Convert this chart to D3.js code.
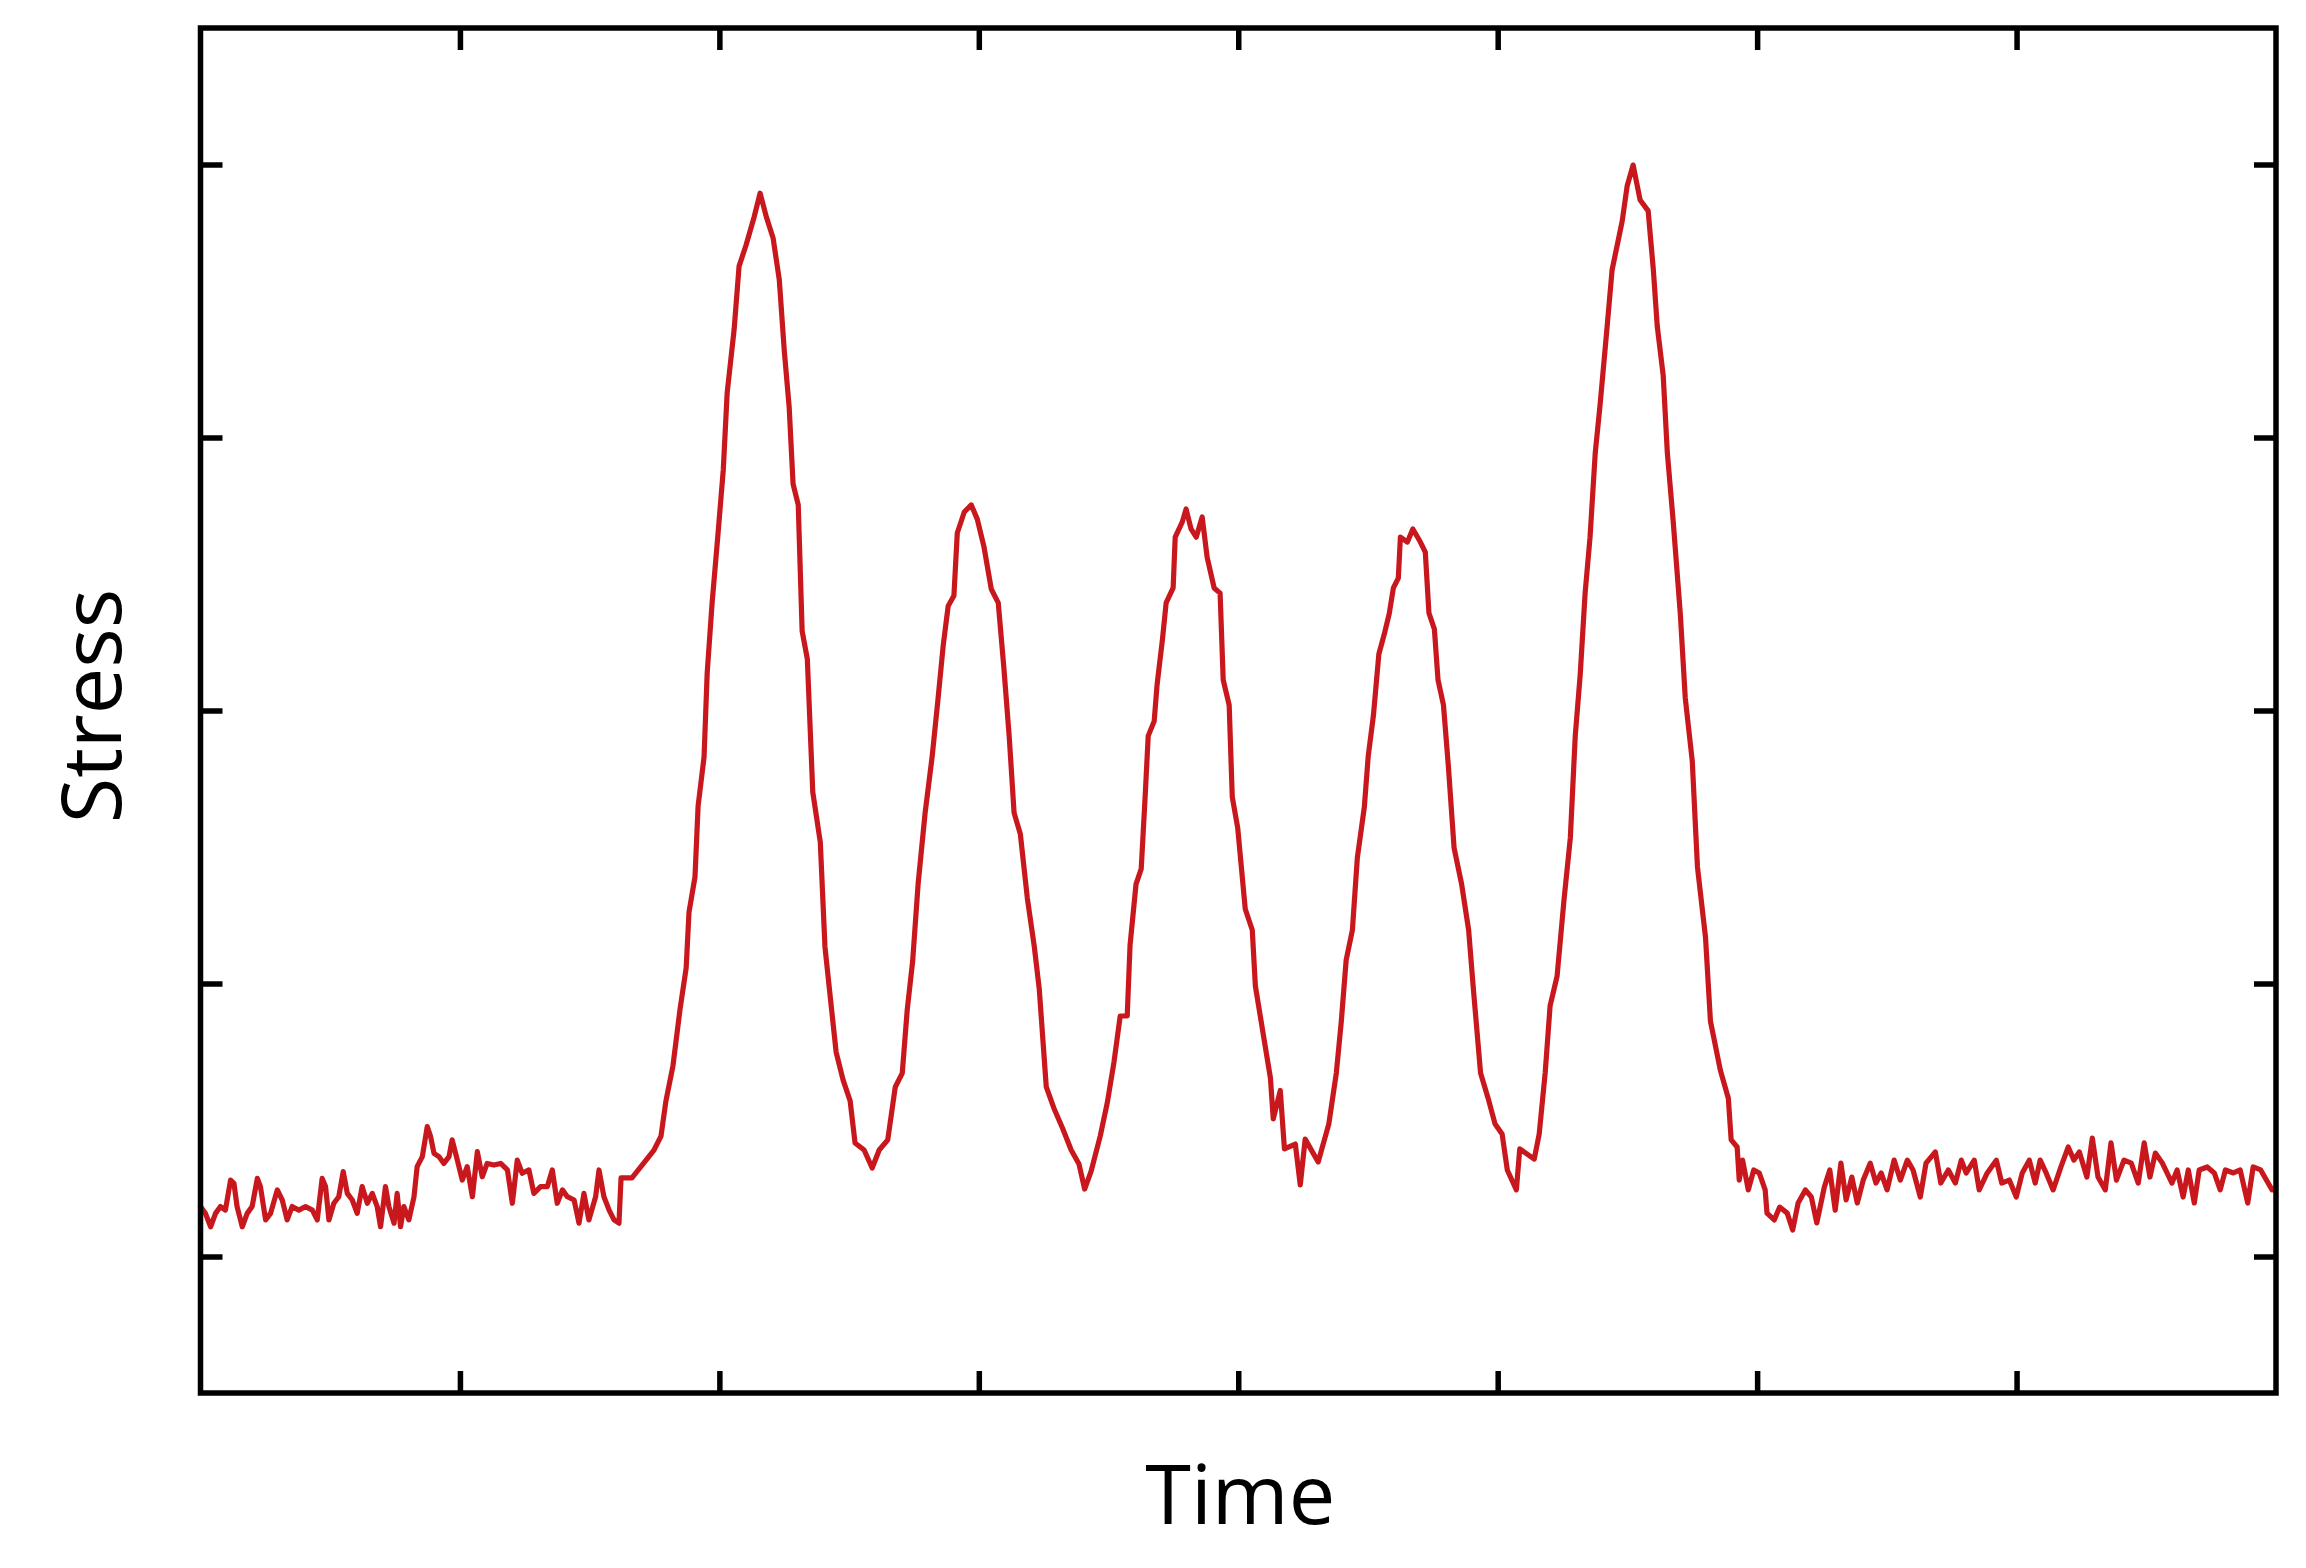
<!DOCTYPE html>
<html>
<head>
<meta charset="utf-8">
<script src="https://cdn.jsdelivr.net/npm/d3@7"></script>
<style>
html,body{margin:0;padding:0;background:#fff;}
svg{display:block;}
</style>
</head>
<body>
<svg id="chart" width="2306" height="1568"></svg>
<script>
// ---- data (arbitrary units) ----
const xTickValues = [100, 200, 300, 400, 500, 600, 700];
const yTickValues = [0, 100, 200, 300, 400];
const xLabel = "Time";
const yLabel = "Stress";

const time = [
  0,1.9,3.9,5.8,7.7,9.6,11.6,12.9,14.1,16.1,18.0,19.9,21.9,23.1,25.1,27.0,29.6,31.5,33.4,35.3,
  37.9,40.5,43.1,45.0,46.9,48.2,49.5,51.4,53.3,55.0,56.6,58.5,60.4,62.3,64.3,66.2,68.1,69.4,71.3,72.6,
  74.6,75.8,77.1,78.4,80.3,82.3,83.5,85.5,87.4,88.7,90.0,91.9,93.8,95.8,97.0,99.0,100.9,102.8,104.8,106.7,
  108.6,110.5,113.1,115.7,118.3,120.2,122.1,124.0,126.6,128.5,131.1,133.7,135.6,137.5,139.5,141.4,144.0,145.9,147.8,149.7,
  152.3,153.6,155.5,157.5,159.4,161.3,
  162.1,166.3,170.6,174.8,177.5,179.4,182.1,184.8,187.2,188.3,190.6,191.8,194.1,195.3,197.2,199.5,201.5,203.0,205.7,207.6,
  210.3,213.4,215.7,218.1,220.7,223.1,225.0,226.9,228.4,230.4,231.9,233.9,236.0,238.9,240.7,242.7,245.0,247.7,250.4,252.3,
  255.8,258.9,261.6,264.9,267.8,270.5,272.4,274.5,276.6,279.3,282.0,284.2,286.3,288.2,290.4,291.7,294.4,297.1,299.4,302.0,
  304.8,307.5,309.6,311.7,313.6,316.0,318.7,321.4,323.3,326.0,328.9,332.4,335.6,338.6,340.8,343.3,346.8,
  349.5,352.1,354.5,357.2,358.3,360.6,362.6,364.1,365.3,367.6,368.7,370.8,372.2,374.9,375.7,378.4,379.9,381.8,383.8,386.1,
  388.0,390.7,393.0,394.2,396.5,397.7,399.8,402.7,405.4,406.6,409.5,412.4,413.5,416.2,417.8,422.0,423.9,425.8,430.8,434.9,
  437.8,439.7,441.6,444.0,445.9,448.6,450.1,452.1,454.2,456.3,458.2,459.8,461.7,462.5,465.2,467.3,470.2,472.1,473.5,475.6,
  477.0,479.1,481.0,483.2,486.1,488.8,490.7,493.4,496.3,499.0,501.7,503.7,507.2,508.5,514.1,516.0,518.3,520.2,522.9,525.6,
  528.0,529.9,531.8,
  533.7,535.6,537.6,539.5,542.2,544.1,546.0,548.0,549.9,552.2,554.9,558.0,560.0,561.5,563.8,565.4,567.7,570.4,572.3,575.0,
  577.0,580.1,582.0,585.8,588.9,
  590.0,592.3,593.1,594.4,596.6,598.7,600.8,603.1,603.8,606.6,608.7,611.6,613.7,615.8,618.6,620.9,623.0,625.9,628.0,630.1,
  632.3,634.3,636.5,638.6,640.9,643.6,645.8,647.8,650.1,652.8,655.2,657.9,660.1,662.9,665.1,668.7,670.8,673.7,676.4,678.7,
  680.6,683.7,685.6,688.7,692.2,694.3,697.2,699.9,702.2,704.9,707.2,709.1,711.4,714.1,717.1,719.9,722.1,724.2,727.1,729.2,
  731.4,734.2,736.4,738.5,741.4,744.2,746.9,749.2,751.4,753.5,756.2,759.9,761.9,764.2,766.2,768.5,770.4,773.5,776.2,778.5,
  780.5,783.6,786.2,789.1,791.2,794.1,796.3,798.5
];

const stress = [
  18.3,15.8,10.9,15.8,18.3,17.0,28.0,26.8,18.3,10.9,15.8,18.3,28.6,25.6,13.4,15.8,24.4,20.7,13.4,18.3,
  17.0,18.3,17.0,13.4,28.6,25.6,13.4,19.5,21.9,31.1,23.1,20.7,15.8,25.6,19.5,23.1,18.3,10.9,25.6,18.3,
  12.2,23.1,10.9,18.3,13.4,21.9,32.9,36.6,47.6,43.9,37.8,36.6,34.1,36.6,42.7,35.3,28.0,32.9,21.9,38.4,
  29.2,34.1,33.5,34.1,31.7,19.5,35.3,30.5,31.7,23.1,25.6,25.6,31.7,19.5,24.4,21.9,20.7,12.2,23.1,13.4,
  21.9,31.7,21.9,17.0,13.4,12.2,
  28.8,28.8,33.9,39.0,44.1,57.0,69.8,90.3,105.7,126.2,139.0,165.0,183.0,213.7,239.4,265.0,288.1,316.3,339.7,362.8,
  370.5,380.8,389.5,380.8,373.1,357.7,332.0,311.2,283.0,275.3,229.1,218.9,170.1,151.8,113.4,95.4,74.9,64.6,57.0,41.6,
  39.0,32.4,39.0,42.7,62.1,67.2,90.3,108.2,136.4,162.5,183.0,203.5,224.0,238.3,242.0,265.0,272.7,275.3,270.1,259.9,
  244.5,239.4,216.3,190.7,162.5,154.8,131.3,113.4,98.0,62.1,54.4,46.7,39.0,33.9,24.7,31.3,44.1,
  56.2,71.2,88.1,88.1,114.1,136.4,142.0,168.3,190.7,196.1,209.3,226.2,239.4,244.9,263.5,269.0,273.8,266.5,263.5,270.9,
  256.2,244.9,243.0,211.2,202.0,168.3,157.0,127.3,119.6,99.1,82.2,65.4,50.4,60.8,39.4,41.2,26.2,43.0,34.6,48.5,
  67.2,85.9,108.6,119.6,146.0,164.6,183.3,198.2,220.7,228.0,235.5,244.9,248.5,263.5,261.7,266.5,261.7,258.0,235.7,229.8,
  211.2,202.0,179.5,149.6,136.4,119.6,97.2,67.2,58.0,48.5,44.9,31.7,24.4,39.4,35.7,44.9,67.2,91.8,102.7,131.0,
  153.3,190.7,213.0,
  243.0,263.5,294.3,312.3,340.8,361.4,370.1,379.3,392.1,399.8,387.0,383.0,361.4,340.8,322.7,294.3,268.7,235.3,204.6,181.5,
  142.7,117.0,86.3,68.3,58.0,
  42.7,40.1,28.0,35.3,24.4,31.7,30.6,24.4,15.9,13.4,18.1,15.9,9.7,19.6,24.4,21.8,12.3,25.4,31.7,17.0,
  34.2,20.7,29.1,19.6,28.0,34.2,26.9,30.6,24.4,35.3,28.0,35.3,31.7,21.8,34.2,38.3,26.9,31.7,26.9,35.3,
  30.6,35.3,24.4,30.6,35.3,26.9,28.0,21.8,30.6,35.3,26.9,35.3,30.6,24.4,32.8,40.1,35.3,38.3,29.1,43.4,
  29.1,24.4,41.6,28.0,35.3,34.2,26.9,41.6,29.1,37.9,34.2,26.9,31.7,21.8,31.7,19.6,31.7,32.8,30.6,24.4,
  31.7,30.6,31.7,19.6,32.8,31.7,28.0,24.4
];

const series = time.map((t, i) => ({ t: t, s: stress[i] }));

// ---- layout ----
const svg = d3.select("#chart");
const plotL = 200.5, plotR = 2276, plotT = 28, plotB = 1393;

const x = d3.scaleLinear().domain([0, 800]).range([plotL, plotR]);
const y = d3.scaleLinear().domain([-50, 450]).range([plotB, plotT]);

const frameW = 5.5, tickLen = 22;

// curve
const line = d3.line().x(d => x(d.t)).y(d => y(d.s));
svg.append("path")
  .datum(series)
  .attr("d", line)
  .attr("fill", "none")
  .attr("stroke", "#c8181d")
  .attr("stroke-width", 5.2)
  .attr("stroke-linejoin", "round")
  .attr("stroke-linecap", "round");

// axes (inward ticks, no labels)
function styleAxis(g) {
  g.select(".domain").remove();
  g.selectAll(".tick line").attr("stroke", "#000").attr("stroke-width", frameW);
  g.selectAll(".tick text").remove();
}
svg.append("g").attr("transform", `translate(0,${plotB})`)
  .call(d3.axisBottom(x).tickValues(xTickValues).tickSizeInner(-tickLen).tickSizeOuter(0).tickFormat(""))
  .call(styleAxis);
svg.append("g").attr("transform", `translate(0,${plotT})`)
  .call(d3.axisTop(x).tickValues(xTickValues).tickSizeInner(-tickLen).tickSizeOuter(0).tickFormat(""))
  .call(styleAxis);
svg.append("g").attr("transform", `translate(${plotL},0)`)
  .call(d3.axisLeft(y).tickValues(yTickValues).tickSizeInner(-tickLen).tickSizeOuter(0).tickFormat(""))
  .call(styleAxis);
svg.append("g").attr("transform", `translate(${plotR},0)`)
  .call(d3.axisRight(y).tickValues(yTickValues).tickSizeInner(-tickLen).tickSizeOuter(0).tickFormat(""))
  .call(styleAxis);

// frame
svg.append("rect")
  .attr("x", plotL).attr("y", plotT)
  .attr("width", plotR - plotL).attr("height", plotB - plotT)
  .attr("fill", "none").attr("stroke", "#000").attr("stroke-width", frameW);

// labels
svg.append("text")
  .attr("x", (plotL + plotR) / 2 + 2).attr("y", 1524)
  .attr("text-anchor", "middle")
  .attr("font-family", "'Open Sans', 'Noto Sans', sans-serif")
  .attr("font-size", 83)
  .attr("fill", "#000")
  .text(xLabel);
svg.append("text")
  .attr("transform", `translate(121,706) rotate(-90)`)
  .attr("text-anchor", "middle")
  .attr("font-family", "'Open Sans', 'Noto Sans', sans-serif")
  .attr("font-size", 83)
  .attr("fill", "#000")
  .text(yLabel);
</script>
</body>
</html>
